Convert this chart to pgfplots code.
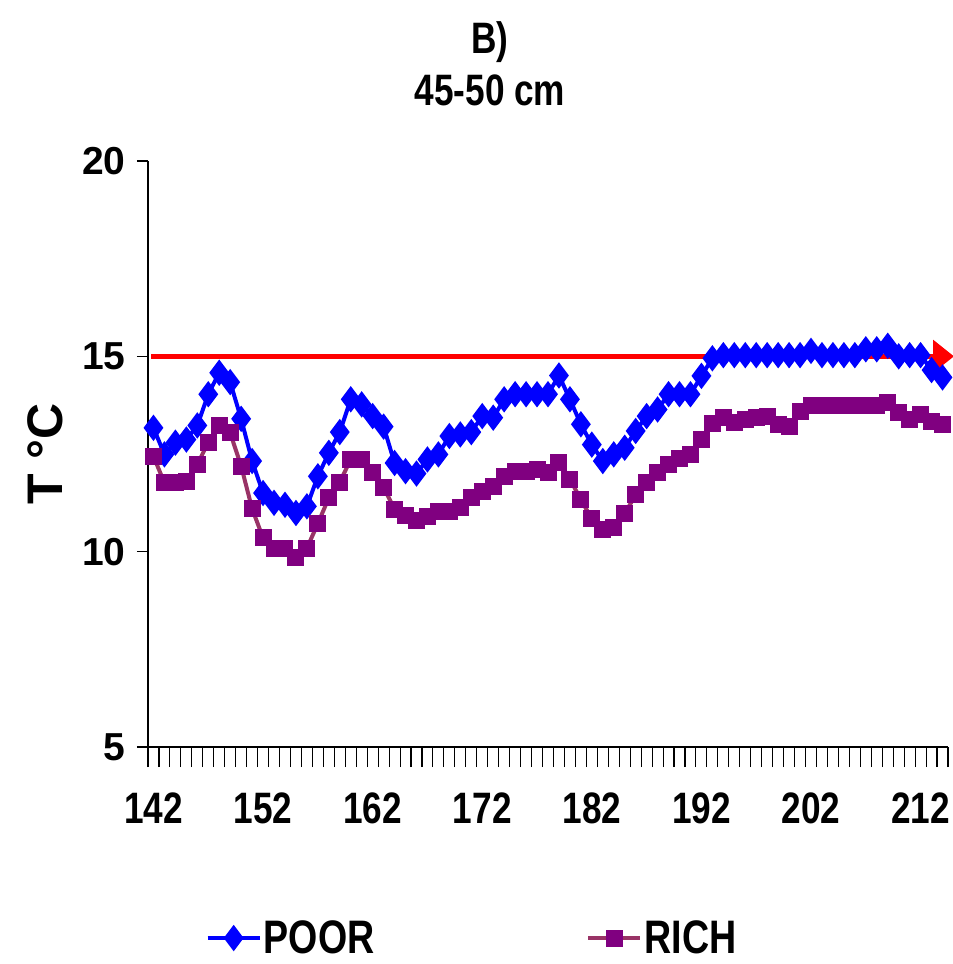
\documentclass[border=0pt]{standalone}
\usepackage{fontspec}
\setmainfont{Liberation Sans}
\newfontfamily\condbf{Liberation Sans}[FakeStretch=0.8]
\usepackage{pgfplots}
\usepackage{pgfplotstable}
\pgfplotsset{compat=1.18}
\usetikzlibrary{arrows.meta}
\definecolor{poorblue}{HTML}{0000FF}
\definecolor{richline}{HTML}{993366}
\definecolor{richmark}{HTML}{800080}
\pgfplotstableread{
x poor rich
142 13.17 12.44
143 12.49 11.76
144 12.79 11.76
145 12.87 11.80
146 13.23 12.23
147 14.03 12.80
148 14.58 13.23
149 14.34 13.04
150 13.40 12.19
151 12.32 11.10
152 11.50 10.35
153 11.25 10.09
154 11.20 10.09
155 10.99 9.86
156 11.16 10.09
157 11.93 10.72
158 12.53 11.38
159 13.06 11.78
160 13.90 12.36
161 13.77 12.36
162 13.47 12.02
163 13.20 11.65
164 12.27 11.08
165 12.06 10.93
166 12.00 10.80
167 12.36 10.91
168 12.49 11.03
169 12.96 11.03
170 13.00 11.12
171 13.06 11.38
172 13.47 11.55
173 13.43 11.67
174 13.90 11.93
175 14.03 12.06
176 14.03 12.06
177 14.03 12.10
178 14.03 12.03
179 14.51 12.27
180 13.90 11.86
181 13.26 11.33
182 12.74 10.84
183 12.32 10.58
184 12.49 10.61
185 12.66 10.97
186 13.09 11.46
187 13.47 11.76
188 13.64 12.03
189 14.03 12.23
190 14.03 12.38
191 14.03 12.49
192 14.50 12.87
193 14.95 13.28
194 15.03 13.43
195 15.03 13.30
196 15.03 13.38
197 15.03 13.43
198 15.03 13.45
199 15.03 13.26
200 15.03 13.21
201 15.03 13.60
202 15.14 13.73
203 15.03 13.73
204 15.03 13.73
205 15.03 13.73
206 15.03 13.73
207 15.18 13.73
208 15.18 13.73
209 15.27 13.81
210 15.00 13.56
211 15.03 13.38
212 15.03 13.51
213 14.65 13.34
214 14.46 13.26
}\tdata
\begin{document}
\begin{tikzpicture}
\useasboundingbox (-148pt,-217pt) rectangle (805pt,747pt);
\begin{axis}[
  scale only axis,
  width=800pt, height=586pt,
  at={(0pt,0pt)}, anchor=south west,
  xmin=141.5, xmax=214.5,
  ymin=5, ymax=20,
  clip=false,
  axis x line*=bottom, axis y line*=left,
  axis line style={black, line width=1.3pt, -},
  tick align=outside,
  tick style={black, line width=1.1pt},
  major tick length=20pt,
  xtick={141.5,142.5,...,214.5},
  xticklabels={},
  ytick=\empty,
  extra x ticks={142,152,...,212},
  extra x tick style={major tick length=0pt,
    tick label style={font=\condbf\bfseries\fontsize{44}{44}\selectfont, yshift=-42pt}},
  extra y ticks={5,10,15,20},
  extra y tick style={major tick length=11pt,
    tick label style={font=\bfseries\fontsize{39}{39}\selectfont, xshift=-8pt}},
  /pgf/number format/assume math mode=true,
  ylabel={T °C},
  every axis y label/.style={at={(axis description cs:-0.129,0.5)}, rotate=90, anchor=center,
    font=\bfseries\fontsize{50}{50}\selectfont},
  legend image code/.code={\draw[mark repeat=2,mark phase=2,#1] plot coordinates {(0pt,0pt) (26pt,0pt) (52pt,0pt)};},
  legend style={draw=none, fill=none, at={(axis description cs:0.405,-0.326)}, anchor=center,
    font=\condbf\bfseries\fontsize{47}{47}\selectfont, nodes={inner xsep=2pt, inner ysep=0pt}},
  legend columns=2,
  /tikz/every even column/.append style={column sep=210pt},
]
\addplot[poorblue, line width=4pt, mark=diamond*, mark size=12pt, mark options={solid, fill=poorblue, draw=poorblue, line width=1.5pt}] table[x=x, y=poor] {\tdata};
\addlegendentry{POOR}
\addplot[richline, line width=4pt, mark=square*, mark size=8pt, mark options={solid, fill=richmark, draw=richmark, line width=1pt}] table[x=x, y=rich] {\tdata};
\addlegendentry{RICH}
\addplot[red, line width=5pt, -{Triangle[length=21pt,width=32pt]}, forget plot] coordinates {(141.8,15) (215.05,15)};
\end{axis}
\node[font=\condbf\bfseries\fontsize{44}{44}\selectfont] at (342pt,705pt) {B)};
\node[font=\condbf\bfseries\fontsize{44}{44}\selectfont] at (342pt,657pt) {45-50 cm};
\end{tikzpicture}
\end{document}
